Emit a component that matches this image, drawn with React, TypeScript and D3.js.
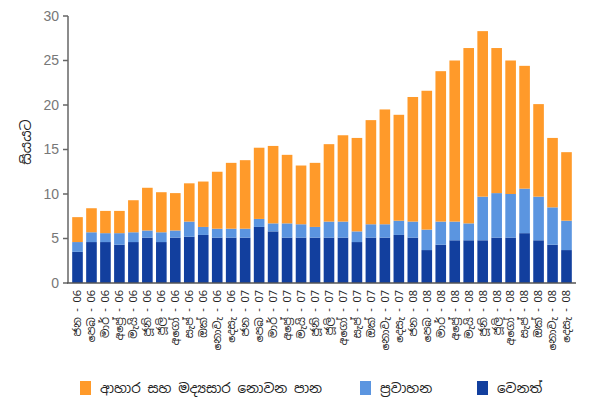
import React from "react";
import * as d3 from "d3";

const months = ["ජන", "පෙබ", "මාර්", "අප්‍රේ", "මැයි", "ජූනි", "ජූලි", "අගෝ", "සැප්", "ඔක්", "නොවැ", "දෙසැ"];
const years = ["06", "07", "08"];
const categories = years.flatMap((y) => months.map((m) => `${m} - ${y}`));

const other = [3.5, 4.6, 4.6, 4.3, 4.6, 5.1, 4.6, 5.1, 5.2, 5.4, 5.1, 5.1,
  5.1, 6.3, 5.8, 5.1, 5.1, 5.1, 5.1, 5.1, 4.6, 5.1, 5.1, 5.4,
  5.1, 3.7, 4.3, 4.8, 4.8, 4.8, 5.1, 5.1, 5.6, 4.8, 4.3, 3.7];
const transport = [1.1, 1.1, 1.0, 1.3, 1.1, 0.8, 1.1, 0.8, 1.7, 0.9, 1.0, 1.0,
  1.0, 0.9, 0.9, 1.6, 1.5, 1.2, 1.8, 1.8, 1.2, 1.5, 1.5, 1.6,
  1.8, 2.3, 2.6, 2.1, 1.9, 4.9, 5.0, 4.9, 5.0, 4.9, 4.2, 3.3];
const food = [2.8, 2.7, 2.5, 2.5, 3.6, 4.8, 4.5, 4.2, 4.3, 5.1, 6.4, 7.4,
  7.7, 8.0, 8.7, 7.7, 6.6, 7.2, 8.7, 9.7, 10.5, 11.7, 12.9, 11.9,
  14.0, 15.6, 16.9, 18.1, 19.7, 18.6, 16.3, 15.0, 13.8, 10.4, 7.8, 7.7];
const yTicks = [0, 5, 10, 15, 20, 25, 30];

const seriesNames = ["වෙනත්", "ප්‍රවාහන", "ආහාර සහ මද්‍යසාර නොවන පාන"];
const seriesColors = ["#123f9e", "#5b95e0", "#ff9a2a"];

const FONT = "'Noto Sans Sinhala', 'Noto Sans', 'DejaVu Sans', sans-serif";

export default function App() {
  const W = 602, H = 414;
  const x = d3.scaleBand<string>().domain(categories).range([68, 576]).paddingInner(0.24).paddingOuter(0.3);
  const y = d3.scaleLinear().domain([0, 30]).range([283, 16]);
  const rows = categories.map((c, i) => ({ c, other: other[i], transport: transport[i], food: food[i] }));
  const stack = d3.stack<any>().keys(["other", "transport", "food"])(rows);

  const legend = [
    { name: seriesNames[2], color: seriesColors[2], x: 80 },
    { name: seriesNames[1], color: seriesColors[1], x: 360 },
    { name: seriesNames[0], color: seriesColors[0], x: 477 },
  ];

  return (
    <svg width={W} height={H} style={{ position: "absolute", left: 0, top: 0, background: "#fff" }}>
      {stack.map((s, si) => (
        <g key={si} fill={seriesColors[si]}>
          {s.map((d, i) => (
            <rect key={i} x={x(categories[i])} width={x.bandwidth()} y={y(d[1])} height={y(d[0]) - y(d[1])} />
          ))}
        </g>
      ))}
      {/* y axis */}
      <line x1={68} x2={68} y1={y(30)} y2={y(0)} stroke="#666" strokeWidth={1.5} />
      {yTicks.map((t) => (
        <g key={t}>
          <line x1={63} x2={68} y1={y(t)} y2={y(t)} stroke="#666" strokeWidth={1.5} />
          <text x={59} y={y(t)} dy="0.35em" textAnchor="end" fontSize={14} fill="#777" fontFamily="Arial, 'Liberation Sans', sans-serif">{t}</text>
        </g>
      ))}
      {/* x axis */}
      <line x1={67} x2={576} y1={y(0)} y2={y(0)} stroke="#555" strokeWidth={1.5} />
      {categories.map((c) => {
        const cx = (x(c) as number) + x.bandwidth() / 2;
        return (
          <text key={c} transform={`translate(${cx},${290}) rotate(-90)`} textAnchor="end" dy="0.35em" fontSize={11} fill="#222" fontFamily={FONT}>{c}</text>
        );
      })}
      <text transform={`translate(26,142) rotate(-90)`} textAnchor="middle" dy="0.35em" fontSize={14} fill="#222" fontFamily={FONT}>සියයට</text>
      {legend.map((l) => (
        <g key={l.name}>
          <rect x={l.x} y={381} width={11} height={14} fill={l.color} />
          <text x={l.x + 20} y={388} dy="0.35em" fontSize={13.5} fill="#222" fontFamily={FONT}>{l.name}</text>
        </g>
      ))}
    </svg>
  );
}
